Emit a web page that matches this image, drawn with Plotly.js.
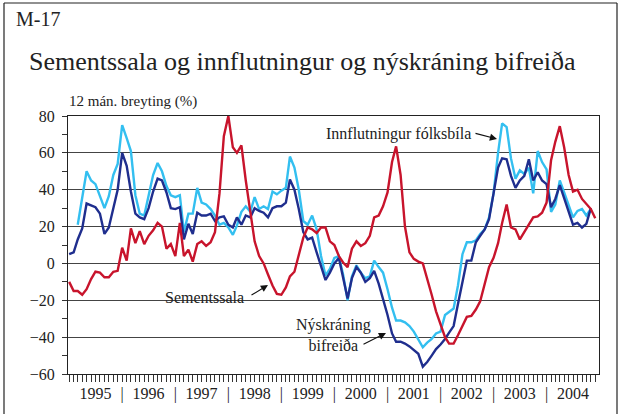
<!DOCTYPE html>
<html><head><meta charset="utf-8">
<script src="https://cdn.plot.ly/plotly-3.0.1.min.js"></script>
<style>html,body{margin:0;padding:0;background:#fff}#chart{width:621px;height:414px}</style>
</head><body><div id="chart"></div>
<script>
const years = ['1995','1996','1997','1998','1999','2000','2001','2002','2003','2004'];

// Sementssala (red), monthly 12-month change, Jan 1995 - Dec 2004
const sementssala = [
  -10, -15, -15, -17, -14, -8.5, -4.5, -5, -7.5, -7.5, -4.5, -4,
  8.5, 1.5, 19, 11, 17.5, 10.5, 15, 18, 22, 20, 8, 10.5,
  4, 22, 4, 7.5, 1, 10.5, 12, 9.5, 11.5, 17, 38, 69,
  80, 63, 60, 64, 45, 28, 12, 4, 0, -6, -12, -16.5,
  -17, -13, -7, -4.5, 5, 14, 19.5, 18.5, 16.5, 19.5, 19.5, 12,
  10, 4, 0.5, -2, 8, 12, 9.5, 11, 15, 25, 26, 31,
  38.5, 55, 63.5, 48, 20, 6, 2.5, 1, 0, -8, -17, -26,
  -33, -40, -43.5, -43.5, -39, -34, -29, -28.5, -25, -20.5, -11, -2,
  3, 11, 22, 32, 19.5, 18.5, 13, 17, 20.5, 25, 25.5, 27.5,
  33, 56, 66, 74.5, 63, 48, 39, 40, 35, 32, 29.5, 24.5
];

// Nýskráning bifreiða (dark blue), Jan 1995 - Nov 2004
const nyskraning = [
  5, 6, 13, 19, 32.5, 31.5, 30.5, 27, 16, 19.5, 29.5, 40,
  60, 53, 39, 27, 25, 24, 30, 39, 46, 45, 38.5, 30,
  29.5, 30.5, 13, 21.5, 16, 27.5, 26, 26, 27, 23, 25, 25.5,
  21, 19.5, 25, 21, 26, 25, 30, 28.5, 27.5, 25, 30, 31,
  31, 33, 45.5, 40, 29.5, 17, 13, 14, 6, -1, -9, -5,
  0, 3, -7, -19, -8, -2, -5, -10, -8, -4, -11, -19,
  -28, -38, -42.5, -42.5, -43.5, -45, -47, -49, -56, -53.5, -50, -46.5,
  -44, -41, -37.5, -34, -22, -11, 1.5, 1.5, 11.5, 15, 18.5, 24,
  38, 52, 57, 56.5, 47.5, 41, 45, 47.5, 56.5, 45, 49.5, 45,
  43, 30.5, 35, 42.5, 35.5, 28.5, 21, 22, 19.5, 21.5, 30
];

// Innflutningur fólksbíla (light blue), Mar 1995 - Nov 2004
const innflutningur = [
  null, null, 21, 35, 50, 45, 43, 36.5, 30, 36.5, 48, 54,
  75, 68, 61, 37, 27, 26, 36, 48, 54.5, 50, 42, 37,
  36, 37, 17, 27, 27, 41, 33, 32, 29.5, 26, 21, 22,
  19.5, 15.5, 20.5, 28, 31, 28, 36, 29.5, 31, 29.5, 39, 37.5,
  39.5, 41, 58, 52, 40, 23, 21, 26, 18.5, 4, -6.5, -3,
  3, 4, -6, -20, -7, -1, -5, -8, -7, 1.5, -2, -5,
  -14, -24, -31, -31, -32, -34, -37, -41, -45.5, -43, -41, -38,
  -37, -28, -26.5, -24.5, -12, 5, 11.5, 11.5, 12.5, 16, 18.5, 25,
  38, 60, 76, 74, 57, 46, 50.5, 48.5, 52, 38, 61, 55,
  51, 28, 32, 45, 38.5, 32, 25, 28.5, 29.5, 26, 29.5
];

const months = [];
years.forEach(y => { for (let m = 1; m <= 12; m++) months.push(y + '-' + String(m).padStart(2, '0') + '-01'); });

const tickvals = [], ticktext = [];
years.forEach((y, i) => {
  if (i > 0) { tickvals.push(y + '-01-01'); ticktext.push('|'); }
  tickvals.push(y + '-07-01'); ticktext.push(y);
});

const SERIF = '"Liberation Serif", "Times New Roman", serif';
const TXT = '#222';

const traces = [
  {x: months.slice(0, innflutningur.length), y: innflutningur, type: 'scatter', mode: 'lines',
   line: {color: '#33bff0', width: 2.4}, connectgaps: false, hoverinfo: 'skip'},
  {x: months.slice(0, nyskraning.length), y: nyskraning, type: 'scatter', mode: 'lines',
   line: {color: '#1f2e8e', width: 2.4}, hoverinfo: 'skip'},
  {x: months.slice(0, sementssala.length), y: sementssala, type: 'scatter', mode: 'lines',
   line: {color: '#c8142c', width: 2.4}, hoverinfo: 'skip'}
];

const W = 531, H = 258, L = 68, T = 116;
const xp = px => (px - L) / W;
const yp = py => (T + H - py) / H;

const layout = {
  width: 621, height: 414,
  margin: {l: 68, r: 22, t: 116, b: 40},
  paper_bgcolor: '#fff', plot_bgcolor: '#fff',
  showlegend: false,
  font: {family: SERIF, color: TXT, size: 16},
  xaxis: {
    type: 'date', range: ['1994-12-24', '2004-12-27'],
    showline: true, mirror: true, linecolor: '#222', linewidth: 1,
    showgrid: false, zeroline: false,
    tickmode: 'array', tickvals: tickvals, ticktext: ticktext,
    ticks: '', ticklabelstandoff: 5,
    tickfont: {family: SERIF, size: 16, color: TXT},
    minor: {ticks: 'outside', ticklen: 7, tickcolor: '#333', tickwidth: 1, dtick: 'M1', tick0: '1995-01-01', showgrid: false}
  },
  yaxis: {
    range: [-60, 80], tickmode: 'linear', tick0: -60, dtick: 20,
    showline: true, mirror: true, linecolor: '#222', linewidth: 1,
    showgrid: true, gridcolor: '#444', gridwidth: 1, zeroline: false,
    ticks: 'outside', ticklen: 5, tickcolor: '#333',
    ticklabelstandoff: 4,
    tickfont: {family: SERIF, size: 16, color: TXT},
    minor: {ticks: 'outside', ticklen: 5, tickcolor: '#333', dtick: 10, tick0: -60, showgrid: false}
  },
  shapes: [
    {type: 'rect', xref: 'paper', yref: 'y', x0: xp(143), x1: xp(272), y0: -23, y1: -17, fillcolor: '#fff', line: {width: 0}, layer: 'between'},
    {type: 'rect', xref: 'paper', yref: 'y', x0: xp(283), x1: xp(386), y0: -43, y1: -37, fillcolor: '#fff', line: {width: 0}, layer: 'between'},
    {type: 'line', xref: 'paper', yref: 'paper', x0: xp(4), x1: xp(4), y0: yp(3), y1: yp(414), line: {color: '#222', width: 1.2}},
    {type: 'line', xref: 'paper', yref: 'paper', x0: xp(4), x1: xp(617), y0: yp(3), y1: yp(3), line: {color: '#222', width: 1.2}},
    {type: 'line', xref: 'paper', yref: 'paper', x0: xp(617), x1: xp(617), y0: yp(3), y1: yp(414), line: {color: '#222', width: 1.2}}
  ],
  annotations: [
    {text: 'M-17', xref: 'paper', yref: 'paper', x: xp(14), y: yp(19), xanchor: 'left', yanchor: 'middle', showarrow: false, font: {family: SERIF, size: 20, color: TXT}},
    {text: 'Sementssala og innflutningur og nýskráning bifreiða', xref: 'paper', yref: 'paper', x: xp(27), y: yp(61), xanchor: 'left', yanchor: 'middle', showarrow: false, font: {family: SERIF, size: 26, color: TXT}},
    {text: '12 mán. breyting (%)', xref: 'paper', yref: 'paper', x: xp(67), y: yp(102), xanchor: 'left', yanchor: 'middle', showarrow: false, font: {family: SERIF, size: 15, color: TXT}},
    {text: 'Innflutningur fólksbíla', xref: 'paper', yref: 'paper', x: xp(398), y: yp(134), xanchor: 'center', yanchor: 'middle', showarrow: false, font: {family: SERIF, size: 16, color: TXT}},
    {text: '', xref: 'paper', yref: 'paper', x: xp(497), y: yp(139), ax: -23, ay: -6, showarrow: true, arrowhead: 2, arrowsize: 1.3, arrowwidth: 1.1, arrowcolor: '#111'},
    {text: 'Sementssala', xref: 'paper', yref: 'paper', x: xp(204), y: yp(297), xanchor: 'center', yanchor: 'middle', showarrow: false, font: {family: SERIF, size: 16, color: TXT}},
    {text: '', xref: 'paper', yref: 'paper', x: xp(268), y: yp(285), ax: -18, ay: 11, showarrow: true, arrowhead: 2, arrowsize: 1.3, arrowwidth: 1.1, arrowcolor: '#111'},
    {text: 'Nýskráning<br>bifreiða', xref: 'paper', yref: 'paper', x: xp(333), y: yp(335), xanchor: 'center', yanchor: 'middle', showarrow: false, font: {family: SERIF, size: 16, color: TXT}},
    {text: '', xref: 'paper', yref: 'paper', x: xp(386), y: yp(333), ax: -24, ay: 12, showarrow: true, arrowhead: 2, arrowsize: 1.3, arrowwidth: 1.1, arrowcolor: '#111'}
  ]
};

Plotly.newPlot('chart', traces, layout, {displayModeBar: false, staticPlot: true});
</script>
</body></html>
